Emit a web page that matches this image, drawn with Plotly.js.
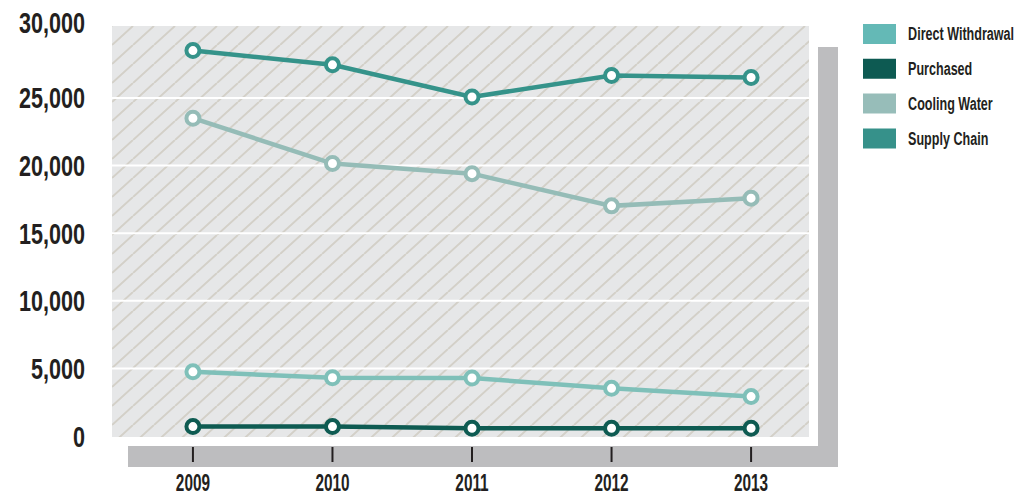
<!DOCTYPE html>
<html>
<head>
<meta charset="utf-8">
<script src="https://cdn.plot.ly/plotly-3.0.1.min.js"></script>
<style>
  html, body { margin: 0; padding: 0; background: #ffffff; }
  #chart { width: 1018px; height: 498px; }
</style>
</head>
<body>
<div id="chart"></div>
<script>
// Water use by source, 2009–2013
const years = [2009, 2010, 2011, 2012, 2013];
const seriesNames = ['Direct Withdrawal', 'Purchased', 'Cooling Water', 'Supply Chain'];
const directWithdrawal = [4750, 4310, 4290, 3530, 2920];
const purchased = [700, 700, 580, 580, 580];
const coolingWater = [23500, 20150, 19400, 17020, 17590];
const supplyChain = [28500, 27450, 25070, 26660, 26510];
const yTickVals = [0, 5000, 10000, 15000, 20000, 25000, 30000];

const lineColors = ['#7fc0b9', '#0e5b52', '#95bcb7', '#35938a'];
const swatchColors = ['#64b9b6', '#0d5a52', '#97bdb9', '#36918a'];
const seriesValues = [directWithdrawal, purchased, coolingWater, supplyChain];

const W = 1018, H = 498;
const M = { l: 112, t: 26, r: 209, b: 61 };
const PW = W - M.l - M.r, PH = H - M.t - M.b;
const px = X => (X - M.l) / PW;          // page x -> paper x
const py = Y => (M.t + PH - Y) / PH;     // page y -> paper y

const FONT = 'Liberation Sans, Arial, sans-serif';
const INK = '#231f20';

// diagonal hatch for the plotting area
const hatch =
  '<svg xmlns="http://www.w3.org/2000/svg" width="' + PW + '" height="' + PH + '">' +
  '<defs><pattern id="h" patternUnits="userSpaceOnUse" width="21" height="19">' +
  '<path d="M0,19 L21,0 M-21,19 L0,0 M21,19 L42,0" stroke="#d3d0c8" stroke-width="2"/>' +
  '</pattern></defs>' +
  '<rect width="100%" height="100%" fill="#e6e7e8"/>' +
  '<rect width="100%" height="100%" fill="url(#h)"/></svg>';

const traces = seriesNames.map((name, i) => ({
  type: 'scatter',
  mode: 'lines+markers',
  name: name,
  x: years,
  y: seriesValues[i],
  line: { color: lineColors[i], width: 4.5 },
  marker: { symbol: 'circle', size: 13, color: '#ffffff', line: { color: lineColors[i], width: 4 } },
  cliponaxis: false,
  hoverinfo: 'x+y+name'
}));

const shapes = [];
// white gridlines (interior values only)
yTickVals.slice(1, -1).forEach(v => shapes.push({
  type: 'line', layer: 'below', xref: 'paper', yref: 'y',
  x0: 0, x1: 1, y0: v, y1: v,
  line: { color: '#ffffff', width: 2 }
}));
// grey offset frame on the right and bottom
shapes.push({
  type: 'rect', layer: 'below', xref: 'paper', yref: 'paper',
  x0: px(128), x1: px(838), y0: py(467), y1: py(446),
  fillcolor: '#bdbdbf', line: { width: 0 }
});
shapes.push({
  type: 'rect', layer: 'below', xref: 'paper', yref: 'paper',
  x0: px(818), x1: px(838), y0: py(467), y1: py(47),
  fillcolor: '#bdbdbf', line: { width: 0 }
});
// year tick marks on the bottom band
years.forEach(yr => shapes.push({
  type: 'line', layer: 'above', xref: 'x', yref: 'paper',
  x0: yr, x1: yr, y0: py(447), y1: py(462),
  line: { color: INK, width: 2 }
}));

// key: coloured blocks with labels
const annotations = [];
seriesNames.forEach((name, i) => {
  const yc = 34 + i * 34.8;
  shapes.push({
    type: 'rect', layer: 'above', xref: 'paper', yref: 'paper',
    x0: px(863), x1: px(896), y0: py(yc + 10), y1: py(yc - 10),
    fillcolor: swatchColors[i], line: { width: 0 }
  });
  annotations.push({
    xref: 'paper', yref: 'paper', x: px(906), y: py(yc),
    xanchor: 'left', yanchor: 'middle', showarrow: false,
    text: name,
    font: { family: FONT, size: 18.5, color: INK, weight: 'bold' }
  });
});

const layout = {
  width: W, height: H,
  margin: M,
  paper_bgcolor: '#ffffff',
  plot_bgcolor: '#e6e7e8',
  showlegend: false,
  xaxis: {
    range: [2008.42, 2013.415],
    tickvals: years,
    ticktext: years.map(String),
    ticks: '',
    showgrid: false, zeroline: false, showline: false,
    ticklabelstandoff: 29,
    tickfont: { family: FONT, size: 24, color: INK, weight: 'bold' },
    fixedrange: true
  },
  yaxis: {
    range: [-70, 30320],
    tickvals: yTickVals,
    tickformat: ',d',
    ticks: '',
    showgrid: false, zeroline: false, showline: false,
    ticklabelstandoff: 26,
    tickfont: { family: FONT, size: 30, color: INK, weight: 'bold' },
    fixedrange: true
  },
  images: [{
    source: 'data:image/svg+xml;charset=utf-8,' + encodeURIComponent(hatch),
    xref: 'paper', yref: 'paper', x: 0, y: 1, sizex: 1, sizey: 1,
    xanchor: 'left', yanchor: 'top', sizing: 'stretch', layer: 'below'
  }],
  shapes: shapes,
  annotations: annotations
};

// narrow the lettering horizontally, keeping each label's anchor edge in place
function condense(root, selector, factor, pivot) {
  root.querySelectorAll(selector).forEach(t => {
    const b = t.getBBox();
    const p = pivot === 'left' ? b.x : pivot === 'right' ? b.x + b.width : b.x + b.width / 2;
    const tr = t.getAttribute('transform') || '';
    t.setAttribute('transform',
      tr + ' translate(' + p + ',0) scale(' + factor + ',1) translate(' + (-p) + ',0)');
  });
}

Plotly.newPlot('chart', traces, layout, { displayModeBar: false, staticPlot: true })
  .then(gd => {
    condense(gd, '.ytick text', 0.72, 'right');
    condense(gd, '.xtick text', 0.64, 'center');
    condense(gd, '.annotation-text', 0.68, 'left');
    // the topmost value label sits level with the top of the frame
    const top = Math.max(...yTickVals);
    gd.querySelectorAll('.ytick text').forEach(t => {
      if (t.__data__ && t.__data__.x === top) {
        t.setAttribute('transform', 'translate(0,-8) ' + (t.getAttribute('transform') || ''));
      }
    });
  });
</script>
</body>
</html>
